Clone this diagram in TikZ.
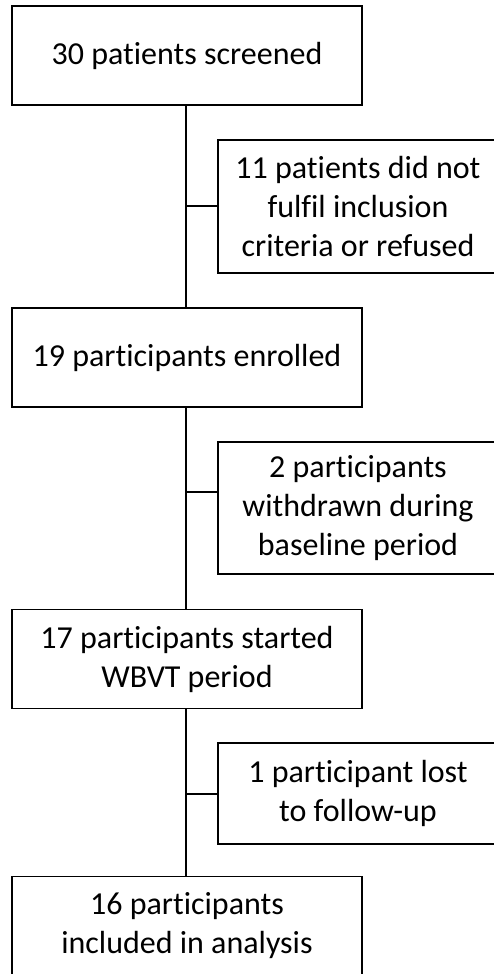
\documentclass[tikz,border=0pt]{standalone}
\usepackage{fontspec}
\setmainfont{Carlito}[Ligatures=NoCommon]
\usetikzlibrary{positioning,calc}
\tikzset{
    block/.style = {draw, rectangle, line width=1.6pt,
        minimum width=350pt, minimum height=99pt,
        align=center, inner sep=0pt},
    side/.style = {draw, rectangle, line width=1.6pt,
        minimum width=280pt, align=center, inner sep=0pt},
    line/.style = {draw, line width=1.1pt}
}
\begin{document}
\begin{tikzpicture}[x=1pt, y=-1pt, font=\fontsize{32}{39}\selectfont]
    \path[use as bounding box, clip] (0,0) rectangle (494,974);
    % main flow
    \node[block] (screened) at (187,55.5) {30 patients screened};
    \node[block] (enrolled) at (187,357.5) {19 participants enrolled};
    \node[block] (started) at (187,659) {17 participants started\\WBVT period};
    \node[block] (analysis) at (187,926) {16 participants\\included in analysis};
    % exclusions
    \node[side, minimum height=133pt] (excluded) at (358,206.5) {11 patients did not\\fulfil inclusion\\criteria or refused};
    \node[side, minimum height=132pt] (withdrawn) at (358,508) {2 participants\\withdrawn during\\baseline period};
    \node[side, minimum height=101pt] (lost) at (358,793.5) {1 participant lost\\to follow-up};
    \coordinate (j1) at (186,206);
    \coordinate (j2) at (186,492);
    \coordinate (j3) at (186,794);
    \draw[line] (screened.south -| j1) -- (enrolled.north -| j1);
    \draw[line] (enrolled.south -| j2) -- (started.north -| j2);
    \draw[line] (started.south -| j3) -- (analysis.north -| j3);
    \draw[line] (j1) -- (j1 -| excluded.west);
    \draw[line] (j2) -- (j2 -| withdrawn.west);
    \draw[line] (j3) -- (j3 -| lost.west);
\end{tikzpicture}
\end{document}
